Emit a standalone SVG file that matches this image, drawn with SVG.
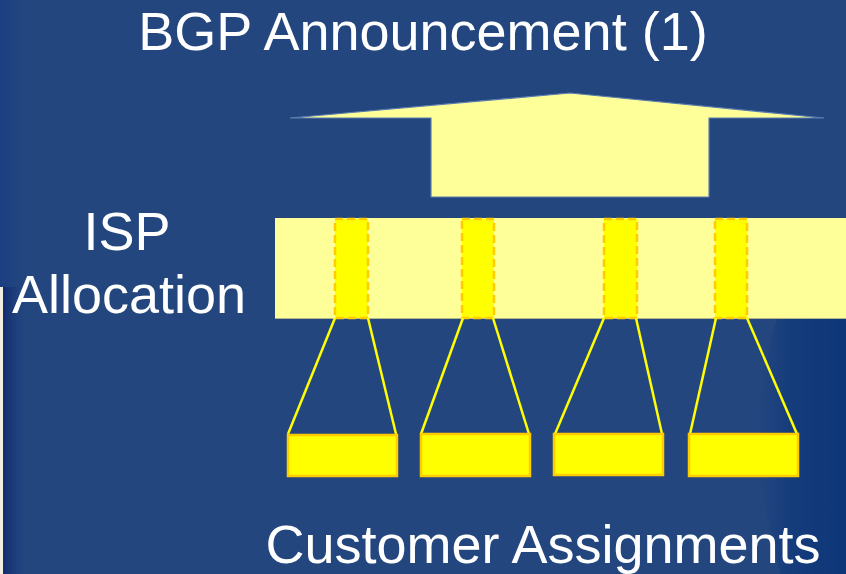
<svg xmlns="http://www.w3.org/2000/svg" width="846" height="574" viewBox="0 0 846 574">
  <defs>
    <linearGradient id="leftEdge" x1="0" y1="0" x2="1" y2="0">
      <stop offset="0" stop-color="#0e2468"/>
      <stop offset="1" stop-color="#23467f" stop-opacity="0"/>
    </linearGradient>
    <linearGradient id="topEdge" x1="0" y1="0" x2="1" y2="0">
      <stop offset="0" stop-color="#1a3f82"/>
      <stop offset="1" stop-color="#23467f" stop-opacity="0"/>
    </linearGradient>
    <linearGradient id="rightShade" x1="0" y1="0" x2="1" y2="0">
      <stop offset="0" stop-color="#0f387a" stop-opacity="0"/>
      <stop offset="0.35" stop-color="#0f387a" stop-opacity="0.7"/>
      <stop offset="1" stop-color="#0d3679"/>
    </linearGradient>
    <style>
      .lbl { font-family: "Liberation Sans", Arial, sans-serif; font-size: 54px; fill: #ffffff; text-anchor: middle; }
      .alloc { fill: #ffff99; }
      .sub { fill: #ffff00; stroke: #ffcc00; stroke-width: 2.5; stroke-dasharray: 8 4; }
      .cust { fill: #ffff00; stroke: #ffcc00; stroke-width: 2.5; }
      .conn { stroke: #ffff00; stroke-width: 2.5; fill: none; }
    </style>
  </defs>

  <!-- background -->
  <rect x="0" y="0" width="846" height="574" fill="#23467f"/>
  <rect x="0" y="0" width="30" height="574" fill="url(#topEdge)"/>
  <rect x="0" y="287" width="28" height="287" fill="url(#leftEdge)"/>
  <path d="M785,300 C765,340 755,420 760,470 C764,510 775,550 780,574 L846,574 L846,300 Z" fill="url(#rightShade)"/>
  <rect x="0" y="287" width="3" height="287" fill="#f3ece0"/>

  <g id="title">
    <text class="lbl" x="423" y="50">BGP Announcement (1)</text>
  </g>

  <g id="announcement-arrow">
    <polygon points="290,118 570,93 824,118 709,118 709,197 431,197 431,118" fill="#ffff99" stroke="#5a7db0" stroke-width="1.2" stroke-linejoin="miter"/>
  </g>

  <g id="isp-label">
    <text class="lbl" x="127" y="250">ISP</text>
    <text class="lbl" x="129" y="313">Allocation</text>
  </g>

  <g id="isp-allocation">
    <rect class="alloc" x="275" y="218" width="571" height="100"/>
    <line x1="275" y1="318.5" x2="846" y2="318.5" stroke="#b7b68a" stroke-width="1"/>
  </g>

  <g id="sub-1"><rect class="sub" x="335" y="219" width="33" height="99"/></g>
  <g id="sub-2"><rect class="sub" x="462" y="219" width="32" height="99"/></g>
  <g id="sub-3"><rect class="sub" x="604" y="219" width="33" height="99"/></g>
  <g id="sub-4"><rect class="sub" x="715" y="219" width="32" height="99"/></g>

  <g id="connectors">
    <line class="conn" x1="335" y1="318" x2="288" y2="434"/>
    <line class="conn" x1="368" y1="318" x2="396" y2="434"/>
    <line class="conn" x1="463" y1="318" x2="421" y2="434"/>
    <line class="conn" x1="493" y1="318" x2="529" y2="434"/>
    <line class="conn" x1="604" y1="318" x2="555" y2="434"/>
    <line class="conn" x1="636" y1="318" x2="662" y2="434"/>
    <line class="conn" x1="716" y1="318" x2="690" y2="434"/>
    <line class="conn" x1="747" y1="318" x2="797" y2="434"/>
  </g>

  <g id="customer-1"><rect class="cust" x="288" y="435" width="109" height="41"/></g>
  <g id="customer-2"><rect class="cust" x="421" y="434" width="109" height="42"/></g>
  <g id="customer-3"><rect class="cust" x="554" y="434" width="109" height="41"/></g>
  <g id="customer-4"><rect class="cust" x="689" y="434" width="109" height="42"/></g>

  <g id="customer-label">
    <text class="lbl" x="543" y="563">Customer Assignments</text>
  </g>
</svg>
